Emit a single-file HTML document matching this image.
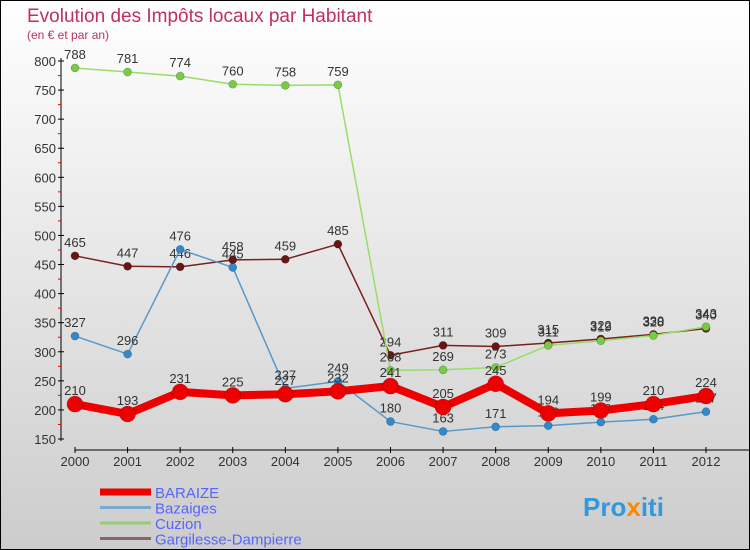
<!DOCTYPE html>
<html><head><meta charset="utf-8"><style>
body{margin:0;width:750px;height:550px;overflow:hidden}
svg{display:block;font-family:"Liberation Sans","DejaVu Sans",sans-serif}
</style></head><body>
<svg id="chart" width="750" height="550" xmlns="http://www.w3.org/2000/svg">
<defs><linearGradient id="bg" x1="0" y1="0" x2="0" y2="1"><stop offset="0" stop-color="#ffffff"/><stop offset="1" stop-color="#cccccc"/></linearGradient></defs>
<rect x="0.5" y="0.5" width="749" height="549" fill="url(#bg)" stroke="#000"/>
<text x="27" y="22" font-size="19" fill="#c0305a">Evolution des Impôts locaux par Habitant</text>
<text x="27" y="39" font-size="12" fill="#c0305a">(en € et par an)</text>
<g id="axes"></g><g id="series"></g><g id="legend"></g>
<text x="583" y="516" font-size="26" font-weight="bold" fill="#3399dd">Pro<tspan fill="#ff8800">x</tspan>iti</text>
</svg>
<script>
const years=[2000,2001,2002,2003,2004,2005,2006,2007,2008,2009,2010,2011,2012];
const yTicks=[150,200,250,300,350,400,450,500,550,600,650,700,750,800];
const seriesNames=["BARAIZE","Bazaiges","Cuzion","Gargilesse-Dampierre"];
const baraize=[210,193,231,225,227,232,241,205,245,194,199,210,224];
const bazaiges=[327,296,476,445,237,249,180,163,171,173,179,184,197];
const cuzion=[788,781,774,760,758,759,268,269,273,311,319,328,343];
const gargilesse=[465,447,446,458,459,485,294,311,309,315,322,330,340];
const NS="http://www.w3.org/2000/svg";
const X=i=>75+i*(706-75)/(years.length-1);
const Y=v=>439-(v-150)*(439-61)/650;
function mk(t,a,p){const e=document.createElementNS(NS,t);for(const k in a)e.setAttribute(k,a[k]);p.appendChild(e);return e;}
const ax=document.getElementById('axes');
const ya=mk('line',{x1:61,y1:58,x2:61,y2:441,stroke:'#000'},ax);


yTicks.forEach(v=>{const y=Y(v);
mk('line',{x1:58,y1:y,x2:64,y2:y,stroke:'#000'},ax);
if(v<800)mk('line',{x1:58,y1:Y(v+25),x2:61,y2:Y(v+25),stroke:'#e00'},ax);
const t=mk('text',{x:56,y:y+5,'text-anchor':'end','font-size':13,fill:'#333'},ax);t.textContent=v;

});
const xa=mk('line',{x1:75,y1:450,x2:750,y2:450,stroke:'#000'},ax);


years.forEach((yr,i)=>{mk('line',{x1:X(i),y1:447,x2:X(i),y2:453,stroke:'#000'},ax);
const t=mk('text',{x:X(i),y:466,'text-anchor':'middle','font-size':13,fill:'#333'},ax);t.textContent=yr;

});
const sg=document.getElementById('series');
const defs=[[gargilesse,'#7a2020','#6a1515',1.5,4,'gargilesse-dampierre'],[cuzion,'#99dd66','#77cc44',1.5,4,'cuzion'],[bazaiges,'#5599cc','#3388cc',1.5,4,'bazaiges'],[baraize,'#ee0000','#ee0000',8,8,'baraize']];
defs.forEach(([d,c,fc,w,r,n])=>{
const g=mk('g',{},sg);


const p=mk('polyline',{points:d.map((v,i)=>X(i)+','+Y(v)).join(' '),fill:'none',stroke:c,'stroke-width':w,'stroke-linejoin':'round'},g);


d.forEach((v,i)=>{const m=mk('circle',{cx:X(i),cy:Y(v),r:r,fill:fc,stroke:'rgba(0,0,0,0.3)','stroke-width':0.6},g);


const t=mk('text',{x:X(i),y:Y(v)-9,'text-anchor':'middle','font-size':13,fill:'#333'},g);t.textContent=v;

});});
const lg=document.getElementById('legend');
const lc=['#ee0000','#77aacc','#99cc77','#886666'],lw=[7,3,3,3];
seriesNames.forEach((n,i)=>{const y=492+i*15.5;
const l=mk('line',{x1:100,y1:y,x2:151,y2:y,stroke:lc[i],'stroke-width':lw[i]},lg);


const t=mk('text',{x:155,y:y+6,'font-size':15,fill:'#5566ff'},lg);t.textContent=n;

});
</script>
</body></html>
